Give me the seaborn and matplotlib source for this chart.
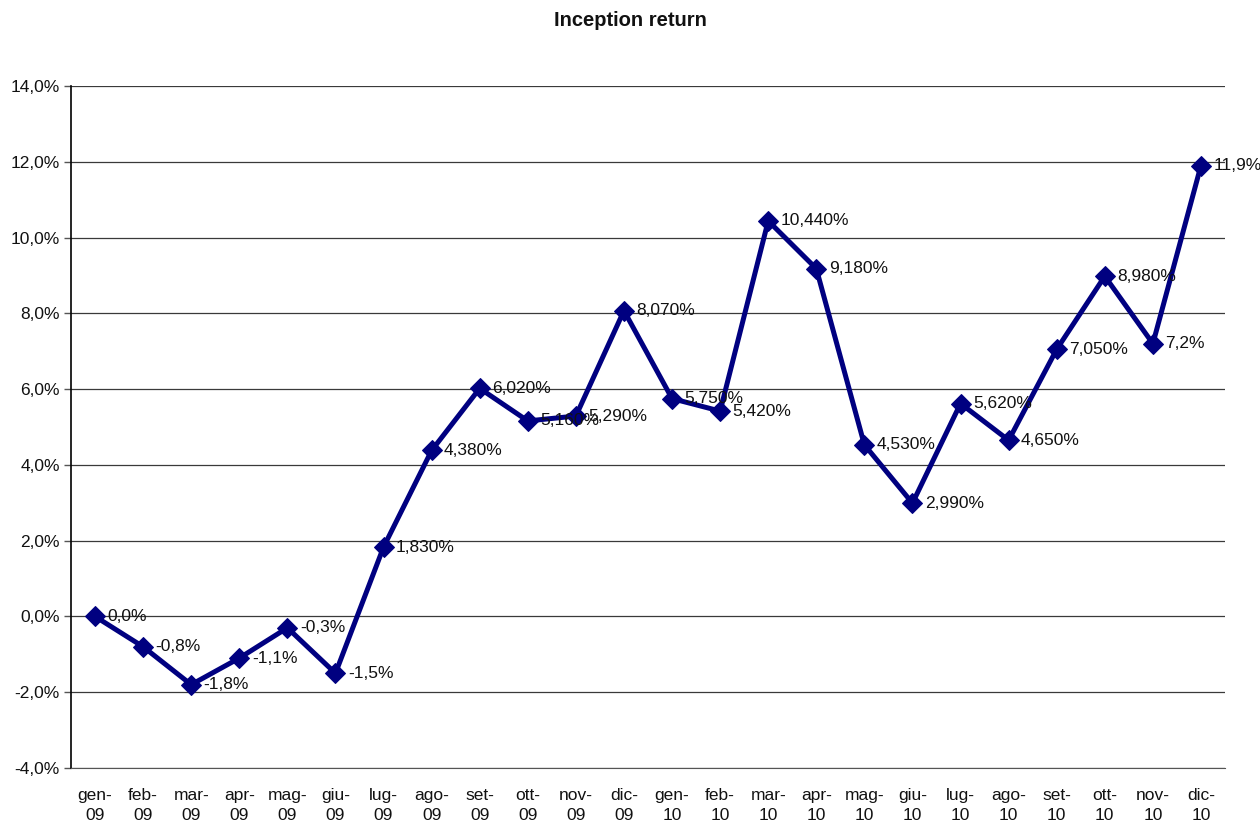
"""
inception return line chart
"""
import matplotlib
matplotlib.use("Agg")
import seaborn as sea
import pandas as pd
import matplotlib.pyplot as plt
from matplotlib.ticker import FuncFormatter

sea.set_style("white")
plt.rcParams["font.family"] = ["Liberation Sans", "DejaVu Sans"]

months = ["gen-\n09", "feb-\n09", "mar-\n09", "apr-\n09", "mag-\n09", "giu-\n09",
          "lug-\n09", "ago-\n09", "set-\n09", "ott-\n09", "nov-\n09", "dic-\n09",
          "gen-\n10", "feb-\n10", "mar-\n10", "apr-\n10", "mag-\n10", "giu-\n10",
          "lug-\n10", "ago-\n10", "set-\n10", "ott-\n10", "nov-\n10", "dic-\n10"]
returns = [0.0, -0.8, -1.8, -1.1, -0.3, -1.5,
           1.83, 4.38, 6.02, 5.16, 5.29, 8.07,
           5.75, 5.42, 10.44, 9.18, 4.53, 2.99,
           5.62, 4.65, 7.05, 8.98, 7.2, 11.9]
point_labels = ["0,0%", "-0,8%", "-1,8%", "-1,1%", "-0,3%", "-1,5%",
                "1,830%", "4,380%", "6,020%", "5,160%", "5,290%", "8,070%",
                "5,750%", "5,420%", "10,440%", "9,180%", "4,530%", "2,990%",
                "5,620%", "4,650%", "7,050%", "8,980%", "7,2%", "11,9%"]

df = pd.DataFrame({"pos": range(len(months)), "ret": returns})

fig = plt.figure(figsize=(12.6, 8.23), dpi=100)
ax = fig.add_axes([71 / 1260, 1 - 768 / 823, (1225 - 71) / 1260, (768 - 86) / 823])

sea.lineplot(data=df, x="pos", y="ret", ax=ax, color="#000080", linewidth=3.6,
             marker="D", markersize=10, markeredgecolor="#000080", zorder=3)

# labels next to every point (5,160% and 5,290% overlap in the original too)
for x, y, lab in zip(df["pos"], df["ret"], point_labels):
    ax.annotate(lab, (x, y), xytext=(9, 0), textcoords="offset points",
                ha="left", va="center", fontsize=12.5, color="#111111", zorder=4)

ax.set_xlim(-0.5, len(months) - 0.5)
ax.set_ylim(-4, 14)
ax.set_yticks(range(-4, 15, 2))
ax.yaxis.set_major_formatter(FuncFormatter(lambda v, p: f"{v:.1f}%".replace(".", ",")))
ax.set_xticks(range(len(months)))
ax.set_xticklabels(months, fontsize=12.5, linespacing=1.4)
ax.tick_params(axis="y", labelsize=12.5, left=True, length=5, width=1, color="#555555", pad=3,
               labelcolor="#111111")
ax.tick_params(axis="x", bottom=False, pad=11, labelcolor="#111111")
ax.set_xlabel("")
ax.set_ylabel("")

ax.grid(axis="y", color="#3a3a3a", linewidth=0.9)
ax.set_axisbelow(True)
for side in ("top", "right"):
    ax.spines[side].set_visible(False)
ax.spines["bottom"].set_color("#555555")
ax.spines["left"].set_color("black")
ax.spines["left"].set_linewidth(1.2)

fig.text(0.5, 1 - 20 / 823, "Inception return", ha="center", va="center",
         fontsize=14.5, fontweight="bold", color="#111111")

plt.savefig("out.png", dpi=100)
plt.close()
